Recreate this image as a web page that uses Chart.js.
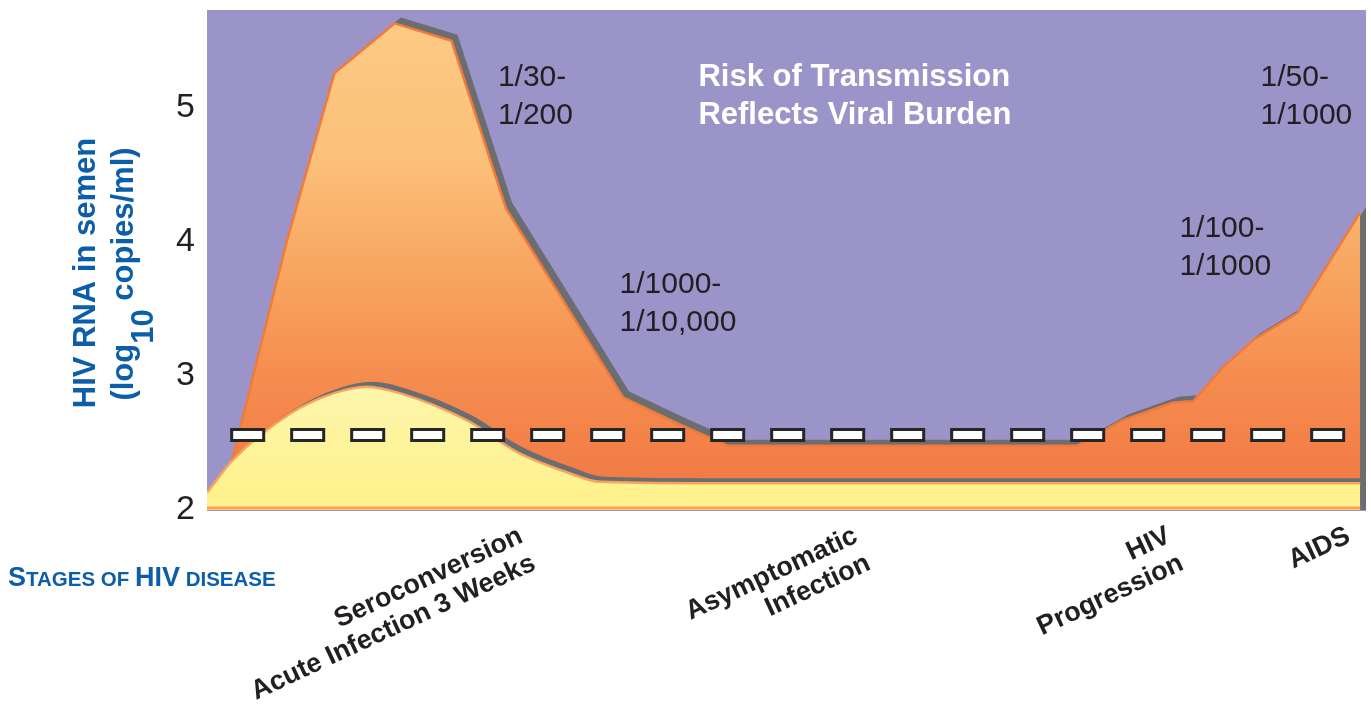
<!DOCTYPE html>
<html>
<head>
<meta charset="utf-8">
<script src="https://cdn.jsdelivr.net/npm/chart.js@4.4.0/dist/chart.umd.min.js"></script>
<style>
  html, body { margin: 0; padding: 0; background: #fff; }
  #wrap { width: 1371px; height: 704px; }
</style>
</head>
<body>
<div id="wrap"><canvas id="hivChart"></canvas></div>
<script>
// HIV RNA in semen (log10 copies/ml) across the course of infection
// x is an arbitrary 0-100 time axis

// upper curve (orange) - viral load
const orangeX = [1.1, 6.9, 11.0, 16.2, 21.1, 25.8, 35.9, 40.5, 44.9, 75.1, 79.0, 83.3, 84.6, 85.1, 87.6, 90.3, 94.1, 99.5];
const orangeY = [2.00, 4.01, 5.26, 5.63, 5.50, 4.25, 2.84, 2.65, 2.48, 2.48, 2.67, 2.80, 2.81, 2.81, 3.06, 3.27, 3.47, 4.22];

// lower curve (yellow)
const yellowX = [0, 2.2, 7.2, 10.9, 13.8, 16.7, 22.4, 26.8, 31.1, 33.9, 42.5, 99.5];
const yellowY = [2.13, 2.37, 2.72, 2.87, 2.92, 2.87, 2.67, 2.43, 2.28, 2.21, 2.20, 2.20];

// dashed threshold
const thresholdX = [2.0, 98.2];
const thresholdY = [2.56, 2.56];

const yTicks = [2, 3, 4, 5];

// stages along the bottom
const stageX = [27.1, 56.0, 83.0, 98.5];
const stageLabels = [
    ['Seroconversion', 'Acute Infection 3 Weeks'],
    ['Asymptomatic', 'Infection'],
    ['HIV', 'Progression'],
    ['AIDS']
];

// transmission risk notes
const riskNotes = [
    ['1/30-', '1/200'],
    ['1/1000-', '1/10,000'],
    ['1/100-', '1/1000'],
    ['1/50-', '1/1000']
];
const riskNoteX = [25.1, 35.6, 83.9, 90.9];
const riskNoteY = [5.16, 3.62, 4.04, 5.16];

const PURPLE = '#9b94c8';
const SHADOW = '#6c6d71';
const BLUE = '#0d5eaa';
const INK = '#231f20';
const FONT = '"Liberation Sans", Arial, Helvetica, sans-serif';

function toPoints(xs, ys) {
    return xs.map((x, i) => ({ x: x, y: ys[i] }));
}

function orangeFill(context) {
    const area = context.chart.chartArea;
    if (!area) return '#f59a55';
    const g = context.chart.ctx.createLinearGradient(0, area.top, 0, area.bottom);
    g.addColorStop(0, '#fdcb85');
    g.addColorStop(0.3, '#fbc079');
    g.addColorStop(0.5, '#f8a862');
    g.addColorStop(0.75, '#f58b4e');
    g.addColorStop(1, '#f17643');
    return g;
}

function yellowFill(context) {
    const area = context.chart.chartArea;
    if (!area) return '#fff39a';
    const top = context.chart.scales.y.getPixelForValue(2.95);
    const g = context.chart.ctx.createLinearGradient(0, top, 0, area.bottom);
    g.addColorStop(0, '#fdf6ad');
    g.addColorStop(1, '#fff189');
    return g;
}

// draws a dataset's area shifted up-right in grey, like a drop shadow
function drawShadow(chart, meta, dx, dy) {
    const ctx = chart.ctx;
    const area = chart.chartArea;
    const pts = meta.data;
    meta.dataset.updateControlPoints(area, 'x');
    ctx.save();
    ctx.beginPath();
    ctx.rect(area.left, area.top, area.right - area.left, area.bottom - area.top);
    ctx.clip();
    ctx.translate(dx, dy);
    ctx.beginPath();
    meta.dataset.path(ctx);
    ctx.lineTo(pts[pts.length - 1].x, area.bottom - dy);
    ctx.lineTo(pts[0].x, area.bottom - dy);
    ctx.closePath();
    ctx.fillStyle = SHADOW;
    ctx.fill();
    ctx.restore();
}

const decor = {
    id: 'decor',
    beforeDraw(chart) {
        const ctx = chart.ctx;
        const a = chart.chartArea;
        ctx.save();
        ctx.fillStyle = PURPLE;
        ctx.fillRect(a.left, a.top, a.right - a.left, a.bottom - a.top + 1);
        ctx.restore();
    },
    beforeDatasetsDraw(chart) {
        drawShadow(chart, chart.getDatasetMeta(3), 6, -6);
    },
    afterDatasetDraw(chart, args) {
        if (args.index === 3) {
            drawShadow(chart, chart.getDatasetMeta(2), 5, -5);
        }
        if (args.index === 2) {
            // orange rule along the bottom of the yellow band
            const pts = args.meta.data;
            const ctx = chart.ctx;
            const b = chart.chartArea.bottom;
            ctx.save();
            ctx.strokeStyle = '#f7a25c';
            ctx.lineWidth = 3;
            ctx.beginPath();
            ctx.moveTo(pts[0].x, b - 2);
            ctx.lineTo(pts[pts.length - 1].x, b - 2);
            ctx.stroke();
            ctx.restore();
        }
    },
    afterDatasetsDraw(chart) {
        const ctx = chart.ctx;
        const xs = chart.scales.x;
        const ys = chart.scales.y;
        ctx.save();
        ctx.textAlign = 'left';
        ctx.textBaseline = 'alphabetic';

        // headline
        ctx.fillStyle = '#ffffff';
        ctx.font = 'bold 31px ' + FONT;
        const hx = xs.getPixelForValue(42.4);
        const hy = ys.getPixelForValue(5.16);
        ctx.fillText('Risk of Transmission', hx, hy);
        ctx.fillText('Reflects Viral Burden', hx, hy + 38);

        // risk ratios
        ctx.fillStyle = INK;
        ctx.font = '30px ' + FONT;
        riskNotes.forEach((lines, i) => {
            const px = xs.getPixelForValue(riskNoteX[i]);
            const py = ys.getPixelForValue(riskNoteY[i]);
            lines.forEach((t, j) => ctx.fillText(t, px, py + j * 38));
        });

        // y axis title, rotated, with subscript
        ctx.fillStyle = BLUE;
        const big = 'bold 31px ' + FONT;
        ctx.save();
        ctx.translate(95, 273);
        ctx.rotate(-Math.PI / 2);
        ctx.font = big;
        ctx.textAlign = 'center';
        ctx.fillText('HIV RNA in semen', 0, 0);
        ctx.restore();

        const parts = [['(log', 0], ['10', 20], [' copies/ml)', 0]];
        ctx.save();
        ctx.translate(133, 274);
        ctx.rotate(-Math.PI / 2);
        ctx.font = big;
        const widths = parts.map(p => ctx.measureText(p[0]).width);
        let cx = -widths.reduce((s, w) => s + w, 0) / 2;
        parts.forEach((p, i) => {
            ctx.fillText(p[0], cx, p[1]);
            cx += widths[i];
        });
        ctx.restore();

        // "Stages of HIV disease" in small caps
        const bigCap = 'bold 27px ' + FONT;
        const smallCap = 'bold 20.5px ' + FONT;
        const runs = [['S', bigCap], ['TAGES OF ', smallCap], ['HIV', bigCap], [' DISEASE', smallCap]];
        let sx = 8;
        runs.forEach(r => {
            ctx.font = r[1];
            ctx.fillText(r[0], sx, 586);
            sx += ctx.measureText(r[0]).width;
        });
        ctx.restore();
    }
};

const ctx = document.getElementById('hivChart').getContext('2d');
const hivChart = new Chart(ctx, {
    type: 'line',
    data: {
        datasets: [{
            label: 'threshold (inner)',
            data: toPoints(thresholdX, thresholdY),
            borderColor: '#ffffff',
            borderWidth: 8,
            borderDash: [29, 31],
            borderDashOffset: -3,
            borderCapStyle: 'butt',
            pointRadius: 0,
            fill: false
        }, {
            label: 'threshold',
            data: toPoints(thresholdX, thresholdY),
            borderColor: '#262626',
            borderWidth: 14,
            borderDash: [35, 25],
            borderCapStyle: 'butt',
            pointRadius: 0,
            fill: false
        }, {
            label: 'lower',
            data: toPoints(yellowX, yellowY),
            borderColor: '#f8a45e',
            backgroundColor: yellowFill,
            borderWidth: 2.5,
            cubicInterpolationMode: 'monotone',
            pointRadius: 0,
            fill: 'start'
        }, {
            label: 'HIV RNA',
            data: toPoints(orangeX, orangeY),
            borderColor: '#f07a3c',
            backgroundColor: orangeFill,
            borderWidth: 2.5,
            tension: 0,
            pointRadius: 0,
            fill: 'start'
        }]
    },
    options: {
        responsive: true,
        maintainAspectRatio: false,
        animation: false,
        events: [],
        layout: { padding: { top: 10, right: 5, bottom: 0, left: 0 } },
        plugins: {
            legend: { display: false },
            tooltip: { enabled: false }
        },
        scales: {
            x: {
                type: 'linear',
                min: 0,
                max: 100,
                grid: { display: false, drawTicks: false },
                border: { display: false },
                afterBuildTicks: (scale) => {
                    scale.ticks = stageX.map(v => ({ value: v }));
                },
                afterFit: (scale) => {
                    scale.height = 194;
                    scale.paddingLeft = 0;
                    scale.paddingRight = 0;
                },
                ticks: {
                    autoSkip: false,
                    minRotation: 25,
                    maxRotation: 25,
                    padding: 11,
                    color: INK,
                    font: { family: FONT, size: 27, weight: 'bold', lineHeight: 1.12 },
                    callback: (value, index) => stageLabels[index]
                }
            },
            y: {
                min: 2,
                max: 5.73,
                grid: { display: false, drawTicks: false },
                border: { display: false },
                afterBuildTicks: (scale) => {
                    scale.ticks = yTicks.map(v => ({ value: v }));
                },
                afterFit: (scale) => {
                    scale.width = 207;
                    scale.paddingTop = 0;
                    scale.paddingBottom = 0;
                },
                ticks: {
                    padding: 12,
                    color: INK,
                    font: { family: FONT, size: 34 }
                }
            }
        }
    },
    plugins: [decor]
});
</script>
</body>
</html>
